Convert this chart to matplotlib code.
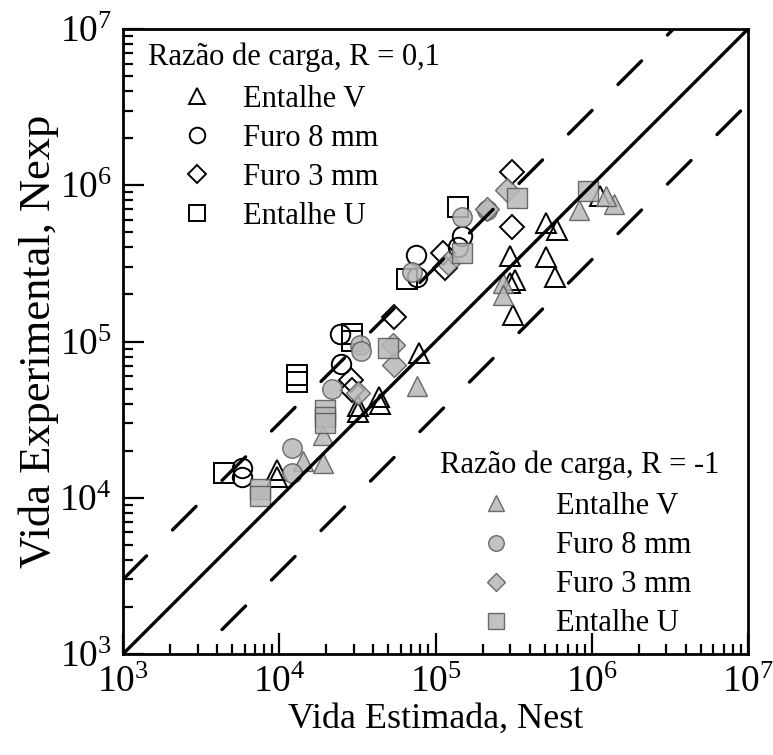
import matplotlib
matplotlib.use("Agg")
import matplotlib.pyplot as plt
from matplotlib.lines import Line2D
from matplotlib.ticker import LogLocator, NullFormatter

plt.rcParams['font.family'] = ['Liberation Serif', 'DejaVu Serif']
plt.rcParams['mathtext.fontset'] = 'custom'
plt.rcParams['mathtext.rm'] = 'Liberation Serif'
plt.rcParams['mathtext.it'] = 'Liberation Serif:italic'

# R = 0,1 (simbolos abertos)
v01_est = [9.7e3, 9.7e3, 3.17e4, 3.2e4, 4.35e4, 4.4e4, 7.84e4, 5.1e5, 6.0e5, 3.0e5,
           5.1e5, 3.23e5, 3.0e5, 5.82e5, 3.13e5, 1.13e6]
v01_exp = [1.51e4, 1.35e4, 3.87e4, 3.54e4, 4.41e4, 3.98e4, 8.44e4, 5.73e5, 5.17e5, 3.55e5,
           3.47e5, 2.48e5, 2.37e5, 2.59e5, 1.48e5, 8.5e5]
f8_01_est = [5.8e3, 5.8e3, 2.45e4, 2.47e4, 7.5e4, 7.6e4, 1.4e5, 1.47e5]
f8_01_exp = [1.55e4, 1.35e4, 1.12e5, 7.2e4, 3.6e5, 2.6e5, 4.0e5, 4.7e5]
f3_01_est = [3.1e5, 3.1e5, 1.12e5, 1.15e5, 5.4e4, 2.88e4, 2.92e4]
f3_01_exp = [1.22e6, 5.4e5, 3.7e5, 2.95e5, 1.43e5, 5.67e4, 4.9e4]
u01_est = [4.4e3, 1.3e4, 1.3e4, 2.92e4, 2.92e4, 6.6e4, 1.4e5]
u01_exp = [1.45e4, 6.1e4, 5.5e4, 1.12e5, 1.01e5, 2.5e5, 7.3e5]

# R = -1 (simbolos cinza)
vm1_est = [8.28e5, 2.7e5, 2.7e5, 1.39e6, 1.23e6, 7.6e4, 1.91e4, 1.42e4, 1.9e4]
vm1_exp = [6.94e5, 2.37e5, 1.99e5, 7.64e5, 8.5e5, 5.19e4, 2.52e4, 1.72e4, 1.67e4]
f8_m1_est = [1.2e4, 1.2e4, 2.18e4, 3.3e4, 3.35e4, 7.1e4, 1.47e5, 2.15e5]
f8_m1_exp = [2.08e4, 1.45e4, 5.0e4, 9.5e4, 8.7e4, 2.8e5, 6.3e5, 6.9e5]
f3_m1_est = [2.87e5, 1.2e5, 5.35e4, 5.4e4, 3.17e4, 2.15e5]
f3_m1_exp = [9.3e5, 3.2e5, 9.5e4, 7.1e4, 4.68e4, 7.05e5]
um1_est = [7.5e3, 7.5e3, 1.96e4, 1.96e4, 1.96e4, 5.0e4, 1.47e5, 3.3e5, 9.5e5]
um1_exp = [1.14e4, 1.03e4, 3.64e4, 3.29e4, 3.01e4, 9.1e4, 3.7e5, 8.3e5, 9.2e5]

series_labels = ['Entalhe V', 'Furo 8 mm', 'Furo 3 mm', 'Entalhe U']
lim = [1e3, 1e7]
band = 3.0

fig = plt.figure(figsize=(7.73, 7.55), dpi=100)
ax = fig.add_axes([123 / 773, 1 - 654 / 755, 625 / 773, 625 / 755])

open_kw = dict(ls='none', mfc='none', mec='black', mew=1.4, zorder=2)
gray_kw = dict(ls='none', mfc='#b8b8b8', mec='#555555', mew=1.0, alpha=0.85, zorder=2)
shapes = ['^', 'o', 'D', 's']
sizes = [15, 14, 12, 14]

open_data = [(v01_est, v01_exp), (f8_01_est, f8_01_exp), (f3_01_est, f3_01_exp), (u01_est, u01_exp)]
gray_data = [(vm1_est, vm1_exp), (f8_m1_est, f8_m1_exp), (f3_m1_est, f3_m1_exp), (um1_est, um1_exp)]

for (x, y), m, s in zip(open_data, shapes, sizes):
    ax.plot(x, y, marker=m, ms=s, **open_kw)
for (x, y), m, s in zip(gray_data, shapes, sizes):
    ax.plot(x, y, marker=m, ms=s, **gray_kw)

# linhas de referencia: N = Nest e banda de fator 3
ax.plot(lim, lim, color='black', lw=2.4, zorder=3)
ax.plot(lim, [v * band for v in lim], color='black', lw=2.4, dashes=(10, 11),
        dash_capstyle='round', zorder=3)
ax.plot(lim, [v / band for v in lim], color='black', lw=2.4, dashes=(10, 11),
        dash_capstyle='round', zorder=3)

ax.set_xscale('log')
ax.set_yscale('log')
ax.set_xlim(lim)
ax.set_ylim(lim)
for a in (ax.xaxis, ax.yaxis):
    a.set_major_locator(LogLocator(base=10, numticks=10))
    a.set_minor_locator(LogLocator(base=10, subs=range(2, 10), numticks=50))
    a.set_minor_formatter(NullFormatter())
ax.tick_params(which='both', direction='in', top=False, right=False, width=1.6)
ax.tick_params(which='major', length=15, labelsize=27, pad=8)
ax.tick_params(which='minor', length=7)
for sp in ax.spines.values():
    sp.set_linewidth(2.0)

ax.set_xlabel('Vida Estimada, Nest', fontsize=26, labelpad=2)
ax.set_ylabel('Vida Experimental, Nexp', fontsize=32, labelpad=0)

fs = 22
h_open = [Line2D([], [], marker=m, ms=s * 0.8, **open_kw) for m, s in zip(shapes, sizes)]
h_gray = [Line2D([], [], marker=m, ms=s * 0.8, **gray_kw) for m, s in zip(shapes, sizes)]

ax.text(0.04, 0.955, 'Razão de carga, R = 0,1', transform=ax.transAxes,
        fontsize=fs, ha='left', va='center')
leg1 = ax.legend(h_open, series_labels, loc='upper left', bbox_to_anchor=(0.101, 0.911),
                 frameon=False, fontsize=fs, handlelength=0.7, handletextpad=1.16,
                 labelspacing=0.33, borderpad=0, borderaxespad=0)
ax.add_artist(leg1)

ax.text(0.507, 0.302, 'Razão de carga, R = -1', transform=ax.transAxes,
        fontsize=fs, ha='left', va='center')
ax.legend(h_gray, series_labels, loc='upper left', bbox_to_anchor=(0.58, 0.259),
          frameon=False, fontsize=fs, handlelength=0.7, handletextpad=1.6,
          labelspacing=0.33, borderpad=0, borderaxespad=0)

fig.savefig('out.png', dpi=100)
